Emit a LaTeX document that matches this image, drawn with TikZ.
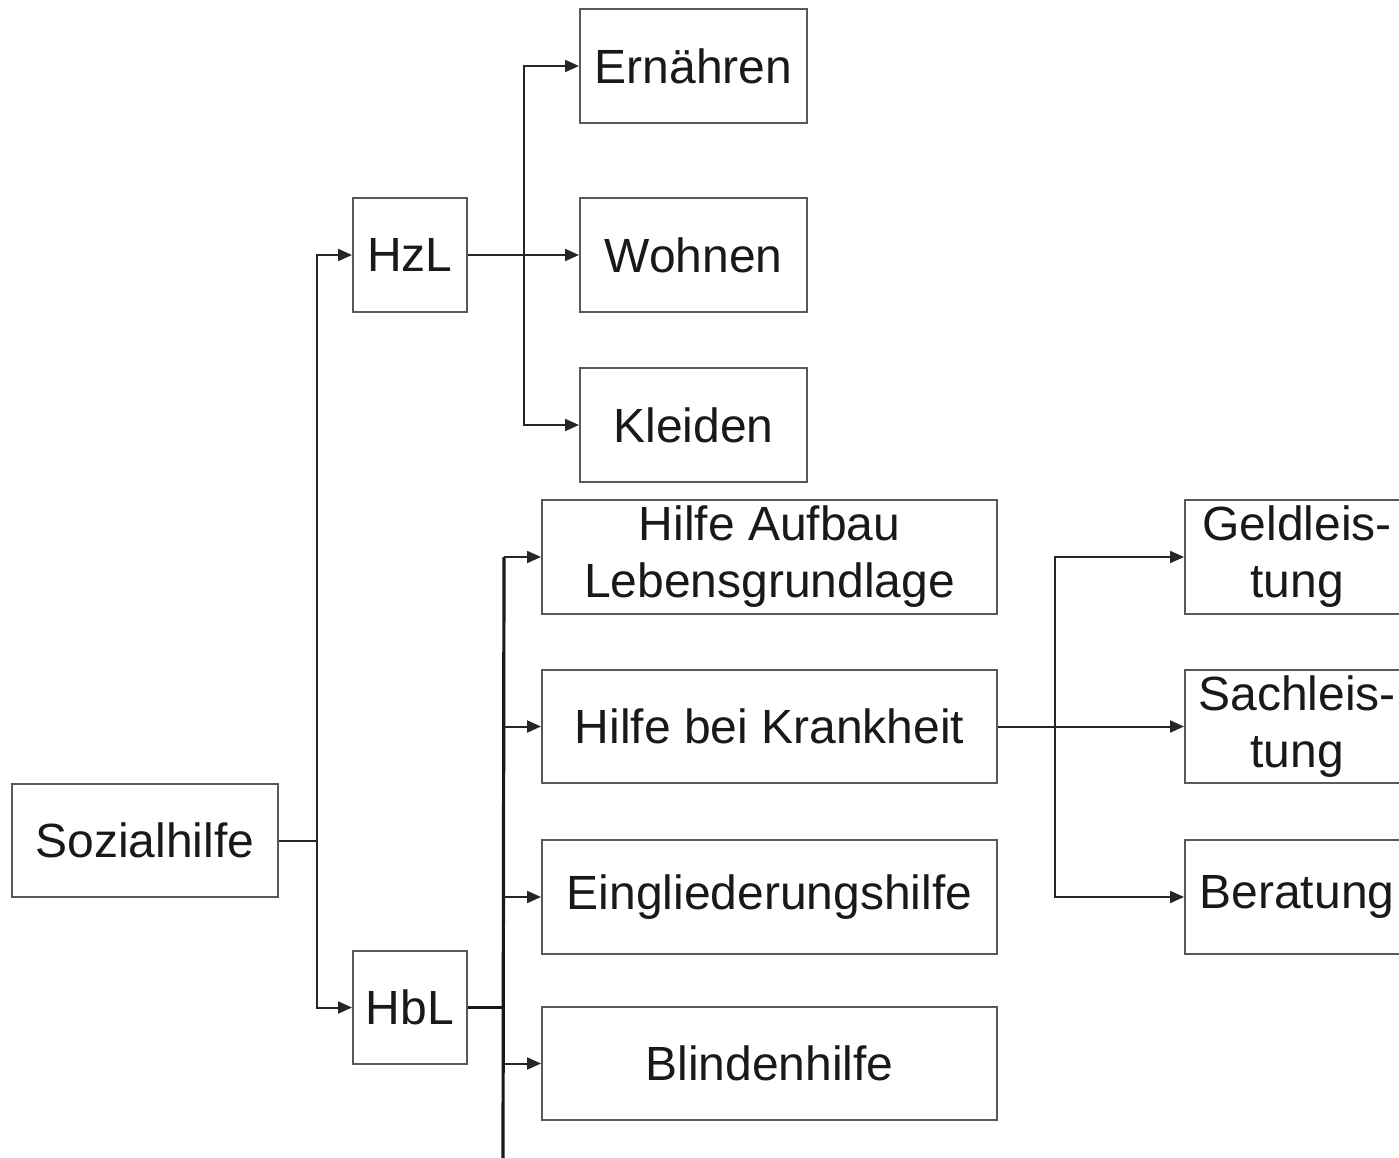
\documentclass[tikz,border=0pt]{standalone}
\usepackage{fontspec}
\setmainfont{Liberation Sans}
\usetikzlibrary{arrows.meta}
\begin{document}
\begin{tikzpicture}[x=1pt,y=-1pt,
  box/.style={draw=black!65, line width=2pt, inner sep=0pt, align=center,
    font=\fontsize{48}{57}\selectfont, text=black!90},
  link/.style={draw=black!85, line width=2pt},
  trunk/.style={draw=black!90, line width=3.2pt},
  arr/.style={link, -{Triangle[length=14pt,width=12pt]}},
]
\useasboundingbox (0,0) rectangle (1399,1158);
\clip (0,0) rectangle (1399,1158);
\fill[white] (0,0) rectangle (1399,1158);

% root
\node[box, minimum width=266pt, minimum height=113pt] (soz) at (145,840.5) {Sozialhilfe};

% second level
\node[box, minimum width=114pt, minimum height=114pt] (hzl) at (410,255) {HzL};
\node[box, minimum width=114pt, minimum height=113pt] (hbl) at (410,1007.5) {HbL};

% HzL branch
\node[box, minimum width=227pt, minimum height=114pt] (ern) at (693.5,66) {Ernähren};
\node[box, minimum width=227pt, minimum height=114pt] (woh) at (693.5,255) {Wohnen};
\node[box, minimum width=227pt, minimum height=114pt] (kle) at (693.5,425) {Kleiden};

% HbL branch
\node[box, minimum width=455pt, minimum height=114pt] (auf) at (769.5,557) {Hilfe Aufbau\\Lebensgrundlage};
\node[box, minimum width=455pt, minimum height=113pt] (kra) at (769.5,726.5) {Hilfe bei Krankheit};
\node[box, minimum width=455pt, minimum height=114pt] (ein) at (769.5,897) {Eingliederungshilfe};
\node[box, minimum width=455pt, minimum height=113pt] (bli) at (769.5,1063.5) {Blindenhilfe};

% Krankheit branch
\node[box, minimum width=224pt, minimum height=114pt] (geld) at (1297,557) {Geldleis-\\tung};
\node[box, minimum width=224pt, minimum height=113pt] (sach) at (1297,726.5) {Sachleis-\\tung};
\node[box, minimum width=224pt, minimum height=114pt] (ber) at (1297,897) {Beratung};

% Sozialhilfe -> HzL / HbL
\draw[link] (soz.east) -- ++(38,0) coordinate (j1);
\draw[arr] (j1) |- (hzl.west);
\draw[arr] (j1) |- (hbl.west);

% HzL -> needs
\draw[link] (hzl.east) -- ++(56,0) coordinate (j2);
\draw[arr] (j2) |- (ern.west);
\draw[arr] (j2) -- (woh.west);
\draw[arr] (j2) |- (kle.west);

% HbL -> special aids (trunk runs on below)
\draw[trunk] (hbl.east) -- ++(36,0) coordinate (j3);
\coordinate (tail) at (503,1158);
\draw[trunk] (j3 |- auf.west) -- (tail);
\draw[arr] (j3 |- auf.west) -- (auf.west);
\draw[arr] (j3 |- kra.west) -- (kra.west);
\draw[arr] (j3 |- ein.west) -- (ein.west);
\draw[arr] (j3 |- bli.west) -- (bli.west);

% Krankheit -> kinds of aid
\draw[link] (kra.east) -- ++(57,0) coordinate (j4);
\draw[arr] (j4) |- (geld.west);
\draw[arr] (j4) -- (sach.west);
\draw[arr] (j4) |- (ber.west);
\end{tikzpicture}
\end{document}
